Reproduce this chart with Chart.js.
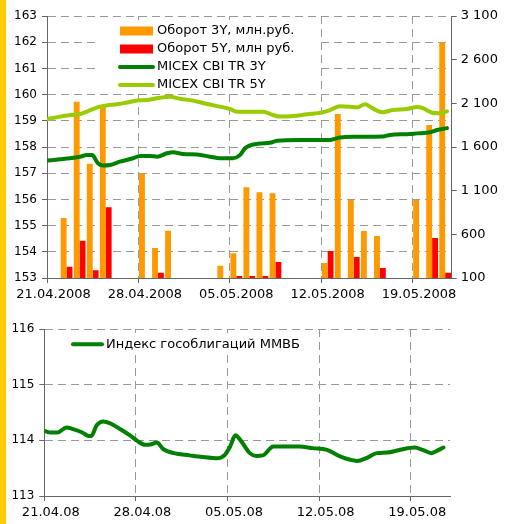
<!DOCTYPE html>
<html>
<head>
<meta charset="utf-8">
<script src="https://cdn.jsdelivr.net/npm/chart.js@4/dist/chart.umd.min.js"></script>
<style>
  body { margin: 0; background: #fff; width: 514px; height: 524px; position: relative; overflow: hidden; }
  #topChart { position: absolute; left: 0; top: 0; }
  #bottomChart { position: absolute; left: 0; top: 305px; }
  .strip { position: absolute; left: 0; top: 0; width: 6px; height: 524px; background: #FFCC00; }
</style>
</head>
<body>
<canvas id="topChart" width="514" height="300"></canvas>
<canvas id="bottomChart" width="514" height="219"></canvas>
<div class="strip"></div>
<script>
// Days are counted from 21.04.2008 (day 0)
const tickDays = [0, 7, 14, 21, 28];
const tickLabelsLong = ['21.04.2008', '28.04.2008', '05.05.2008', '12.05.2008', '19.05.2008'];
const tickLabelsShort = ['21.04.08', '28.04.08', '05.05.08', '12.05.08', '19.05.08'];

// Turnover bars, млн руб. (day of the session + value)
const days3Y = [1, 2, 3, 4, 7, 8, 9, 13, 14, 15, 16, 17, 21, 22, 23, 24, 25, 28, 29, 30];
const turnover3Y = [787, 2119, 1408, 2068, 1297, 444, 641, 241, 382, 1138, 1081, 1069, 272, 1978, 993, 637, 581, 996, 1852, 2800];
const days5Y = [1, 2, 3, 4, 8, 14, 15, 16, 17, 21, 23, 25, 29, 30];
const turnover5Y = [229, 526, 190, 910, 161, 123, 123, 123, 283, 409, 340, 214, 558, 161];

// MICEX CBI TR 3Y
const daysIdx3Y = [0, 1, 1.76, 2.53, 3.06, 3.45, 3.9, 4.29, 4.83, 5.59, 6.59, 7.12, 7.89, 8.43, 9.19, 9.65, 10.42, 11.49, 12.49, 13.25, 14.25, 14.78, 15.17, 15.55, 16.32, 17.08, 17.62, 19.38, 21.68, 22.44, 23.44, 25.74, 26.27, 27.58, 28.34, 29.34, 29.87, 30.64];
const index3Y = [157.48, 157.53, 157.57, 157.63, 157.69, 157.69, 157.38, 157.29, 157.31, 157.44, 157.57, 157.66, 157.66, 157.63, 157.76, 157.8, 157.73, 157.71, 157.63, 157.57, 157.57, 157.69, 157.95, 158.06, 158.13, 158.16, 158.24, 158.27, 158.27, 158.36, 158.39, 158.4, 158.46, 158.49, 158.52, 158.56, 158.65, 158.72];

// MICEX CBI TR 5Y
const daysIdx5Y = [0, 1, 1.53, 2.53, 3.14, 4.06, 4.6, 5.36, 6.13, 7.05, 7.66, 8.43, 9.42, 10.19, 11.18, 12.26, 13.25, 14.02, 14.55, 16.55, 17.31, 17.85, 18.84, 19.92, 21.06, 21.68, 22.44, 23.21, 23.74, 24.36, 24.74, 25.35, 25.74, 26.5, 27.58, 28.34, 28.8, 29.49, 30.1, 30.64];
const index5Y = [159.06, 159.16, 159.2, 159.26, 159.37, 159.54, 159.59, 159.63, 159.7, 159.78, 159.79, 159.86, 159.92, 159.84, 159.77, 159.64, 159.54, 159.45, 159.35, 159.35, 159.22, 159.16, 159.18, 159.25, 159.32, 159.41, 159.56, 159.54, 159.51, 159.63, 159.54, 159.37, 159.33, 159.41, 159.45, 159.53, 159.48, 159.31, 159.29, 159.36];

// Индекс гособлигаций ММВБ
const daysGov = [0, 0.5, 1, 1.7, 2.2, 2.9, 3.4, 3.6, 4.0, 4.5, 5.0, 5.8, 6.6, 7.1, 7.7, 8.2, 8.6, 9.1, 9.9, 11.1, 12.1, 13.2, 13.8, 14.2, 14.6, 15.0, 15.7, 16.2, 16.7, 17.5, 19.5, 20.5, 21.6, 22.6, 23.9, 24.6, 25.4, 26.2, 27.2, 28.3, 28.9, 29.6, 29.9, 30.5];
const govIndex = [114.17, 114.14, 114.14, 114.23, 114.2, 114.14, 114.08, 114.08, 114.27, 114.34, 114.31, 114.2, 114.08, 113.99, 113.92, 113.93, 113.96, 113.84, 113.77, 113.73, 113.7, 113.68, 113.74, 113.89, 114.09, 114.0, 113.77, 113.72, 113.73, 113.89, 113.89, 113.86, 113.83, 113.71, 113.63, 113.68, 113.77, 113.78, 113.83, 113.87, 113.83, 113.77, 113.8, 113.87];

const FONT = { family: '"DejaVu Sans"', size: 12 };
const FONT_BIG = { family: '"DejaVu Sans"', size: 13 };
const GRID = '#999';
const AXIS = '#666';
const DASH = [8, 5];

const pts = (xs, ys) => xs.map((x, i) => ({ x: x, y: ys[i] }));
// bars sit in the middle of their day
const barPts = (xs, ys) => xs.map((x, i) => ({ x: x + 0.5, y: ys[i] }));
const spaced = v => String(v).replace(/\B(?=(\d{3})+(?!\d))/g, ' ');

// legend in a white box over the plot, like in the original
const boxLegend = {
  id: 'boxLegend',
  beforeDatasetsDraw(chart, args, o) {
    const ctx = chart.ctx;
    ctx.save();
    ctx.fillStyle = '#fff';
    ctx.fillRect(o.x, o.y, o.w, o.h);
    ctx.font = '13px "DejaVu Sans"';
    ctx.textBaseline = 'middle';
    chart.data.datasets.forEach((ds, i) => {
      const y = o.y + o.first + i * o.step;
      if (ds.type === 'bar') {
        ctx.fillStyle = ds.backgroundColor;
        ctx.fillRect(o.x + o.sx, y - 4.5, o.sw, 9);
      } else {
        ctx.strokeStyle = ds.borderColor;
        ctx.lineWidth = 4;
        ctx.lineCap = 'round';
        ctx.beginPath();
        ctx.moveTo(o.x + o.sx, y);
        ctx.lineTo(o.x + o.sx + o.sw, y);
        ctx.stroke();
      }
      ctx.fillStyle = '#000';
      ctx.fillText(ds.label, o.x + o.tx, y);
    });
    ctx.restore();
  }
};

const lineStyle = color => ({
  type: 'line', borderColor: color, backgroundColor: color, borderWidth: 4,
  pointRadius: 0, cubicInterpolationMode: 'monotone', borderCapStyle: 'round', borderJoinStyle: 'round'
});

const xAxis = (labels, height) => ({
  type: 'linear', min: 0, max: 31, offset: false,
  afterBuildTicks: s => { s.ticks = tickDays.map(v => ({ value: v })); },
  ticks: { callback: (v, i) => labels[i], labelOffset: 6.5, maxRotation: 0, autoSkip: false, font: FONT_BIG, color: '#000', padding: 4 },
  grid: { offset: false, color: GRID, tickColor: AXIS, tickLength: 5 },
  border: { color: AXIS, dash: DASH },
  afterFit: s => { s.height = height; }
});

// Верхний график: обороты и индексы MICEX CBI TR
new Chart(document.getElementById('topChart'), {
  data: {
    datasets: [
      { type: 'bar', label: 'Оборот 3Y, млн.руб.', data: barPts(days3Y, turnover3Y), backgroundColor: '#FF9900', yAxisID: 'y2', order: 2, categoryPercentage: 0.9, barPercentage: 1 },
      { type: 'bar', label: 'Оборот 5Y, млн руб.', data: barPts(days5Y, turnover5Y), backgroundColor: '#FF0000', yAxisID: 'y2', order: 2, categoryPercentage: 0.9, barPercentage: 1 },
      { ...lineStyle('#008000'), label: 'MICEX CBI TR 3Y', data: pts(daysIdx3Y, index3Y), yAxisID: 'y', order: 1 },
      { ...lineStyle('#99CC00'), label: 'MICEX CBI TR 5Y', data: pts(daysIdx5Y, index5Y), yAxisID: 'y', order: 1 }
    ]
  },
  options: {
    responsive: false, animation: false,
    layout: { padding: { top: 16, left: 0, right: 0, bottom: 0 } },
    plugins: {
      legend: { display: false }, tooltip: { enabled: false },
      boxLegend: { x: 97, y: 20, w: 221, h: 73, first: 11, step: 18, sx: 23, sw: 33, tx: 60 }
    },
    scales: {
      x: xAxis(tickLabelsLong, 22),
      y: {
        position: 'left', min: 153, max: 163,
        ticks: { stepSize: 1, font: FONT, color: '#000', padding: 5 },
        grid: { color: GRID, tickColor: AXIS, tickLength: 5 },
        border: { color: AXIS, dash: DASH },
        afterFit: s => { s.width = 47; }
      },
      y2: {
        position: 'right', min: 100, max: 3100,
        ticks: { stepSize: 500, callback: v => spaced(v), font: FONT_BIG, color: '#000', padding: 4 },
        grid: { drawOnChartArea: false, tickColor: AXIS, tickLength: 5 },
        border: { color: AXIS },
        afterFit: s => { s.width = 62.3; }
      }
    }
  },
  plugins: [boxLegend]
});

// Нижний график: индекс гособлигаций
new Chart(document.getElementById('bottomChart'), {
  data: {
    datasets: [
      { ...lineStyle('#008000'), label: 'Индекс гособлигаций ММВБ', data: pts(daysGov, govIndex) }
    ]
  },
  options: {
    responsive: false, animation: false,
    layout: { padding: { top: 24, left: 0, right: 64, bottom: 0 } },
    plugins: {
      legend: { display: false }, tooltip: { enabled: false },
      boxLegend: { x: 70, y: 28, w: 232, h: 22, first: 11.3, step: 18, sx: 3, sw: 29, tx: 36 }
    },
    scales: {
      x: xAxis(tickLabelsShort, 28),
      y: {
        min: 113, max: 116,
        ticks: { stepSize: 1, font: FONT, color: '#000', padding: 5 },
        grid: { color: GRID, tickColor: AXIS, tickLength: 5 },
        border: { color: AXIS, dash: DASH },
        afterFit: s => { s.width = 44.3; }
      }
    }
  },
  plugins: [boxLegend]
});
</script>
</body>
</html>
